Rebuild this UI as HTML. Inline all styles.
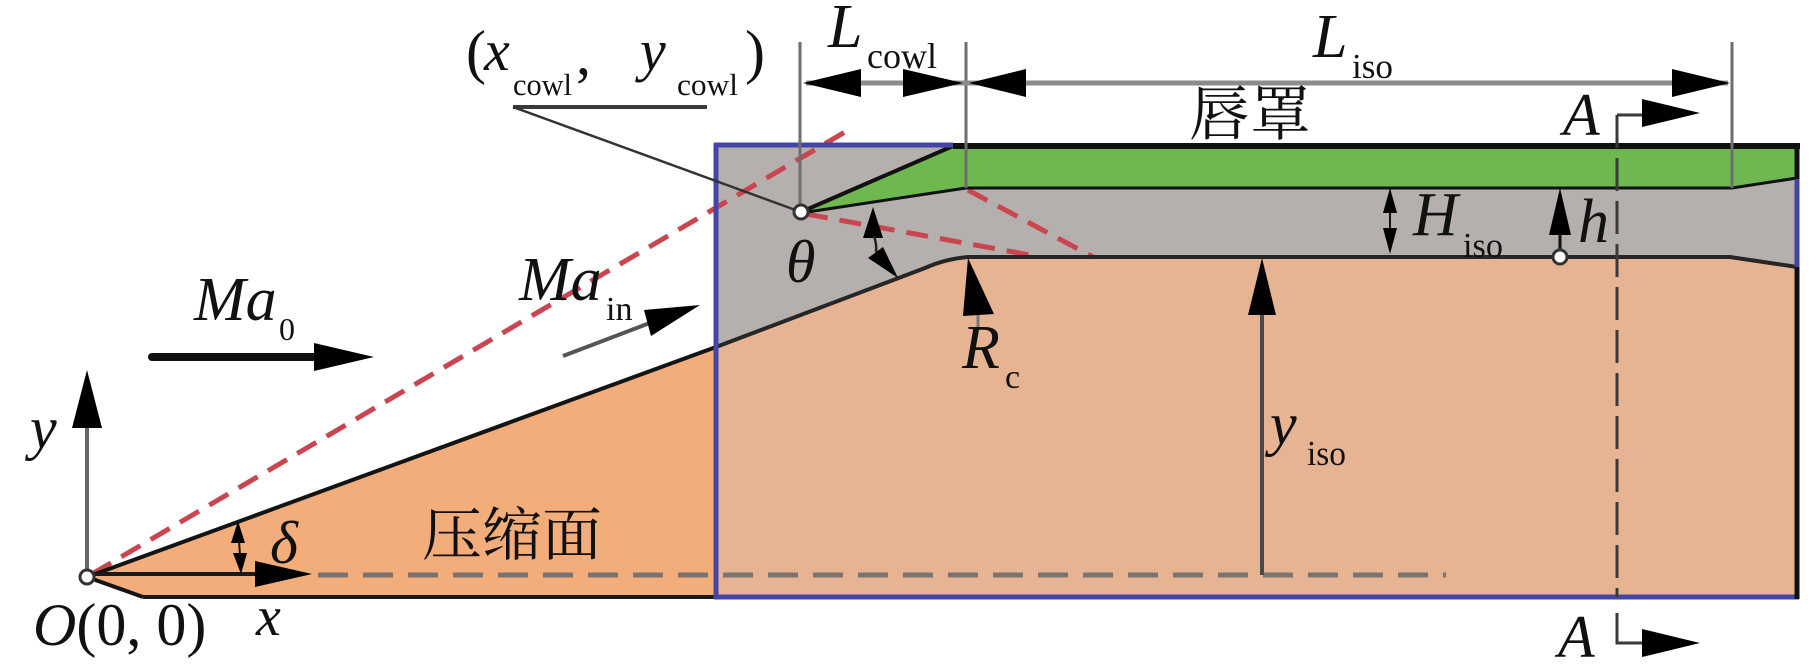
<!DOCTYPE html>
<html>
<head>
<meta charset="utf-8">
<style>
  html,body{margin:0;padding:0;background:#ffffff;}
  svg{display:block;}
  text{font-family:"Liberation Serif","Noto Serif CJK SC",serif;fill:#111;}
  .it{font-style:italic;}
  .cjk{font-family:"Liberation Serif","Noto Serif CJK SC","Noto Sans CJK SC",serif;}
</style>
</head>
<body>
<svg width="1819" height="672" viewBox="0 0 1819 672" xmlns="http://www.w3.org/2000/svg">
  <defs>
    <filter id="blur3" x="-20%" y="-200%" width="140%" height="500%">
      <feGaussianBlur stdDeviation="3"/>
    </filter>
  </defs>
  <rect x="0" y="0" width="1819" height="672" fill="#ffffff"/>

  <!-- left orange compression ramp -->
  <polygon points="87,577 716,347 716,597 143,597" fill="#f3ad7b"/>

  <!-- gray internal region -->
  <rect x="716" y="145" width="1081" height="452" fill="#b5b0ae"/>

  <!-- right orange body -->
  <path d="M716,347 L925,268 Q945,259 968,257 L1730,257 L1797,267 L1797,597 L716,597 Z" fill="#e7b493"/>

  <!-- green cowl -->
  <polygon points="801,212 953,146 1797,146 1797,178 1732,188 966,188" fill="#6eb84f"/>

  <!-- red dashed shock lines -->
  <g stroke="#c9454f" stroke-width="5" fill="none" stroke-dasharray="22 12">
    <line x1="92" y1="574" x2="845" y2="132"/>
    <line x1="806" y1="214" x2="1030" y2="255"/>
    <line x1="968" y1="190" x2="1093" y2="257"/>
  </g>

  <!-- gray x-axis dashed continuation -->
  <line x1="318" y1="575" x2="1446" y2="575" stroke="#7b7370" stroke-width="5" stroke-dasharray="30 15"/>

  <!-- ramp / floor lines -->
  <line x1="87" y1="577" x2="716" y2="347" stroke="#141414" stroke-width="4"/>
  <path d="M716,347 L925,268 Q945,259 968,257 L1730,257 L1797,267" stroke="#262626" stroke-width="4" fill="none"/>
  <line x1="87" y1="577" x2="143" y2="597" stroke="#141414" stroke-width="4"/>
  <line x1="143" y1="597" x2="716" y2="597" stroke="#1a1a1a" stroke-width="4"/>

  <!-- cowl outlines -->
  <line x1="953" y1="146" x2="1800" y2="146" stroke="#111" stroke-width="6"/>
  <line x1="801" y1="212" x2="953" y2="146" stroke="#111" stroke-width="4"/>
  <line x1="801" y1="213" x2="966" y2="188" stroke="#111" stroke-width="3"/>
  <line x1="966" y1="188" x2="1732" y2="188" stroke="#111" stroke-width="3"/>
  <line x1="1732" y1="188" x2="1797" y2="178" stroke="#111" stroke-width="3"/>

  <!-- blue box -->
  <g stroke="#4545a5" stroke-width="5" fill="none">
    <line x1="716" y1="143" x2="716" y2="599"/>
    <line x1="714" y1="145" x2="953" y2="145"/>
    <line x1="714" y1="597" x2="1799" y2="597"/>
    <line x1="1797" y1="178" x2="1797" y2="267"/>
  </g>
  <line x1="1797" y1="143" x2="1797" y2="179" stroke="#111" stroke-width="5"/>
  <line x1="1797" y1="267" x2="1797" y2="599" stroke="#111" stroke-width="5"/>

  <!-- extension lines -->
  <g stroke="#6e6e6e" stroke-width="3">
    <line x1="800" y1="42" x2="800" y2="206"/>
    <line x1="966" y1="42" x2="966" y2="188"/>
    <line x1="1732" y1="42" x2="1732" y2="188"/>
  </g>
  <!-- dimension line -->
  <line x1="806" y1="83" x2="1728" y2="83" stroke="#8c8c8c" stroke-width="5"/>
  <g fill="#000">
    <polygon points="861,69 861,97 803,83"/>
    <polygon points="903,69 903,97 963,83"/>
    <polygon points="1026,69 1026,97 969,83"/>
    <polygon points="1672,69 1672,97 1730,83"/>
  </g>

  <!-- leader line to cowl lip -->
  <line x1="513" y1="107" x2="707" y2="107" stroke="#3a3a3a" stroke-width="4"/>
  <line x1="513" y1="107" x2="801" y2="212" stroke="#333" stroke-width="2.5"/>

  <!-- section A-A -->
  <line x1="1617" y1="115" x2="1617" y2="597" stroke="#3a3a3a" stroke-width="3" stroke-dasharray="33 10"/>
  <polyline points="1617,115 1644,115" stroke="#3a3a3a" stroke-width="3" fill="none"/>
  <polygon points="1642,99 1642,127 1700,113" fill="#000"/>
  <polyline points="1617,613 1617,643 1644,643" stroke="#3a3a3a" stroke-width="3" fill="none"/>
  <polygon points="1642,629 1642,657 1700,643" fill="#000"/>

  <!-- Ma0 arrow -->
  <line x1="152" y1="366" x2="330" y2="366" stroke="#888" stroke-width="8" filter="url(#blur3)" opacity="0.6"/>
  <line x1="152" y1="357" x2="318" y2="357" stroke="#111" stroke-width="8" stroke-linecap="round"/>
  <polygon points="314,343 314,371 374,357" fill="#000"/>

  <!-- Ma_in arrow -->
  <line x1="563" y1="356" x2="655" y2="321" stroke="#555" stroke-width="4"/>
  <polygon points="644,310 651,336 700,305" fill="#000"/>

  <!-- axes -->
  <line x1="87" y1="577" x2="87" y2="426" stroke="#666" stroke-width="4"/>
  <polygon points="72,428 102,428 87,370" fill="#000"/>
  <line x1="87" y1="574" x2="258" y2="574" stroke="#1a1a1a" stroke-width="4"/>
  <polygon points="255,561 255,587 312,574" fill="#000"/>

  <!-- delta angle arrows -->
  <line x1="239" y1="540" x2="240" y2="556" stroke="#111" stroke-width="2"/>
  <polygon points="231,543 245,543 238,521" fill="#000"/>
  <polygon points="233,553 247,553 241,574" fill="#000"/>

  <!-- theta angle arrows -->
  <polygon points="863,238 883,238 873,207" fill="#000"/>
  <path d="M874,236 Q877,245 876,252" stroke="#222" stroke-width="2.5" fill="none"/>
  <polygon points="868,258 883,247 898,278" fill="#000"/>

  <!-- R_c arrow -->
  <line x1="978" y1="314" x2="978" y2="330" stroke="#777" stroke-width="3"/>
  <polygon points="963,316 994,314 968,258" fill="#000"/>

  <!-- y_iso arrow -->
  <line x1="1262" y1="312" x2="1262" y2="575" stroke="#4a4a4a" stroke-width="4"/>
  <polygon points="1248,315 1276,315 1262,258" fill="#000"/>

  <!-- H_iso double arrow -->
  <line x1="1390" y1="208" x2="1390" y2="234" stroke="#111" stroke-width="2"/>
  <polygon points="1383,213 1397,213 1390,188" fill="#000"/>
  <polygon points="1383,228 1397,228 1390,254" fill="#000"/>

  <!-- h arrow -->
  <line x1="1560" y1="232" x2="1560" y2="251" stroke="#111" stroke-width="3"/>
  <polygon points="1549,235 1571,235 1560,188" fill="#000"/>

  <!-- small circles -->
  <circle cx="801" cy="212" r="7" fill="#fff" stroke="#333" stroke-width="3"/>
  <circle cx="1560" cy="257" r="7" fill="#fff" stroke="#333" stroke-width="3"/>
  <circle cx="87" cy="577" r="7" fill="#fff" stroke="#333" stroke-width="3"/>

  <!-- ===== labels ===== -->
  <!-- (x_cowl, y_cowl) -->
  <text x="466" y="72" font-size="60">(</text>
  <text x="484" y="70" font-size="58" class="it">x</text>
  <text x="513" y="95" font-size="31" textLength="59" lengthAdjust="spacingAndGlyphs">cowl</text>
  <text x="576" y="74" font-size="60">,</text>
  <text x="640" y="70" font-size="58" class="it">y</text>
  <text x="677" y="95" font-size="31" textLength="61" lengthAdjust="spacingAndGlyphs">cowl</text>
  <text x="745" y="72" font-size="60">)</text>

  <!-- L_cowl -->
  <text x="828" y="47" font-size="62" class="it">L</text>
  <text x="867" y="68" font-size="36" textLength="70" lengthAdjust="spacingAndGlyphs">cowl</text>

  <!-- L_iso -->
  <text x="1313" y="57" font-size="62" class="it">L</text>
  <text x="1352" y="78" font-size="35" textLength="41" lengthAdjust="spacingAndGlyphs">iso</text>

  <!-- 唇罩 -->
  <text x="1189" y="135" font-size="60" class="cjk" textLength="122" lengthAdjust="spacingAndGlyphs">唇罩</text>

  <!-- A top / bottom -->
  <text x="1563" y="135" font-size="60" class="it">A</text>
  <text x="1558" y="657" font-size="60" class="it">A</text>

  <!-- H_iso -->
  <text x="1413" y="235" font-size="62" class="it">H</text>
  <text x="1463" y="257" font-size="35" textLength="40" lengthAdjust="spacingAndGlyphs">iso</text>

  <!-- h -->
  <text x="1578" y="242" font-size="62" class="it">h</text>

  <!-- theta -->
  <text x="786" y="282" font-size="60" class="it">θ</text>

  <!-- Ma_in -->
  <text x="519" y="300" font-size="62" class="it">Ma</text>
  <text x="606" y="320" font-size="34">in</text>

  <!-- Ma_0 -->
  <text x="194" y="320" font-size="62" class="it">Ma</text>
  <text x="279" y="340" font-size="32">0</text>

  <!-- R_c -->
  <text x="962" y="368" font-size="62" class="it">R</text>
  <text x="1005" y="388" font-size="34">c</text>

  <!-- y_iso -->
  <text x="1270" y="444" font-size="60" class="it">y</text>
  <text x="1307" y="465" font-size="35" textLength="39" lengthAdjust="spacingAndGlyphs">iso</text>

  <!-- axis labels -->
  <text x="30" y="448" font-size="60" class="it">y</text>
  <text x="256" y="635" font-size="56" class="it">x</text>
  <text x="270" y="563" font-size="60" class="it">δ</text>

  <!-- 压缩面 -->
  <text x="422" y="555" font-size="58" class="cjk" textLength="180" lengthAdjust="spacingAndGlyphs">压缩面</text>

  <!-- O(0, 0) -->
  <text x="33" y="645" font-size="60"><tspan class="it">O</tspan>(0, 0)</text>
</svg>
</body>
</html>
